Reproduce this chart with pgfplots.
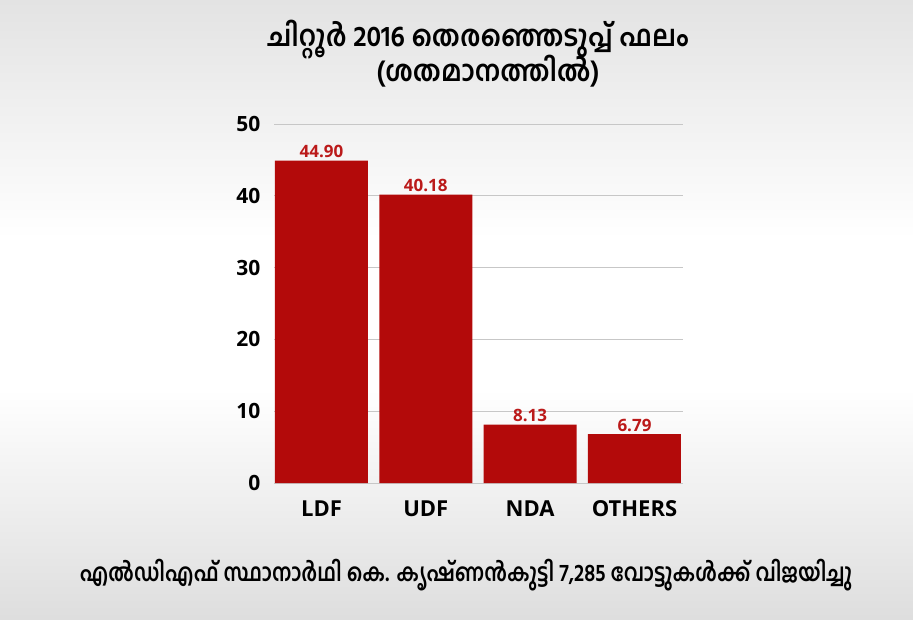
\documentclass[border=0pt]{standalone}
\usepackage{pgfplots}
\pgfplotsset{compat=1.18}
\usepackage{fontspec}
\setmainfont{Open Sans}
\newfontfamily\mlfont[Script=Malayalam, FakeStretch=0.92]{Hind Kochi}
\newfontfamily\mlfontc[Script=Malayalam, FakeStretch=0.83]{Hind Kochi}
\definecolor{barred}{HTML}{B30A0A}
\definecolor{labred}{HTML}{BB1A1A}
\begin{document}
\begin{tikzpicture}[x=1pt,y=1pt]
\useasboundingbox (0,0) rectangle (913,619);
\fill[white] (0,0) rectangle (913,619);
\shade[top color=black!11, bottom color=white] (0,380) rectangle (913,619);
\shade[top color=white, bottom color=black!13] (0,0) rectangle (913,230);
\node[font=\mlfont\bfseries\fontsize{29}{36}\selectfont, anchor=base] at (478,572) {ചിറ്റൂർ 2016 തെരഞ്ഞെടുപ്പ് ഫലം};
\node[font=\mlfont\bfseries\fontsize{29}{36}\selectfont, anchor=base] at (488,537) {(ശതമാനത്തിൽ)};
\node[font=\mlfontc\bfseries\fontsize{24.5}{30}\selectfont, anchor=base] at (466,38) {എൽഡിഎഫ് സ്ഥാനാർഥി കെ. കൃഷ്ണൻകുട്ടി 7,285 വോട്ടുകൾക്ക് വിജയിച്ചു};
\begin{axis}[
  at={(274pt,136pt)}, anchor=south west,
  scale only axis, width=409pt, height=359pt,
  xmin=-0.455, xmax=3.465, ymin=0, ymax=50,
  ytick={0,10,20,30,40,50},
  xtick=data, xticklabels={LDF,UDF,NDA,OTHERS},
  axis line style={draw=none}, tick style={draw=none},
  ymajorgrids, grid style={black!22, line width=0.9pt},
  /pgf/number format/assume math mode=true,
  yticklabel style={font=\bfseries\fontsize{21}{21}\selectfont, anchor=east, xshift=-10pt},
  xticklabel style={font=\bfseries\fontsize{22}{22}\selectfont, anchor=base, yshift=-33pt},
  enlarge x limits=false,
  clip=false,
]
\addplot[ybar, bar width=93pt, fill=barred, draw=none,
  nodes near coords, point meta=explicit symbolic,
  every node near coord/.append style={font=\bfseries\fontsize{17}{17}\selectfont, text=labred, anchor=base, inner sep=0pt, yshift=3pt}]
  coordinates {(0,44.90) [44.90] (1,40.18) [40.18] (2,8.13) [8.13] (3,6.79) [6.79]};
\end{axis}
\end{tikzpicture}
\end{document}
